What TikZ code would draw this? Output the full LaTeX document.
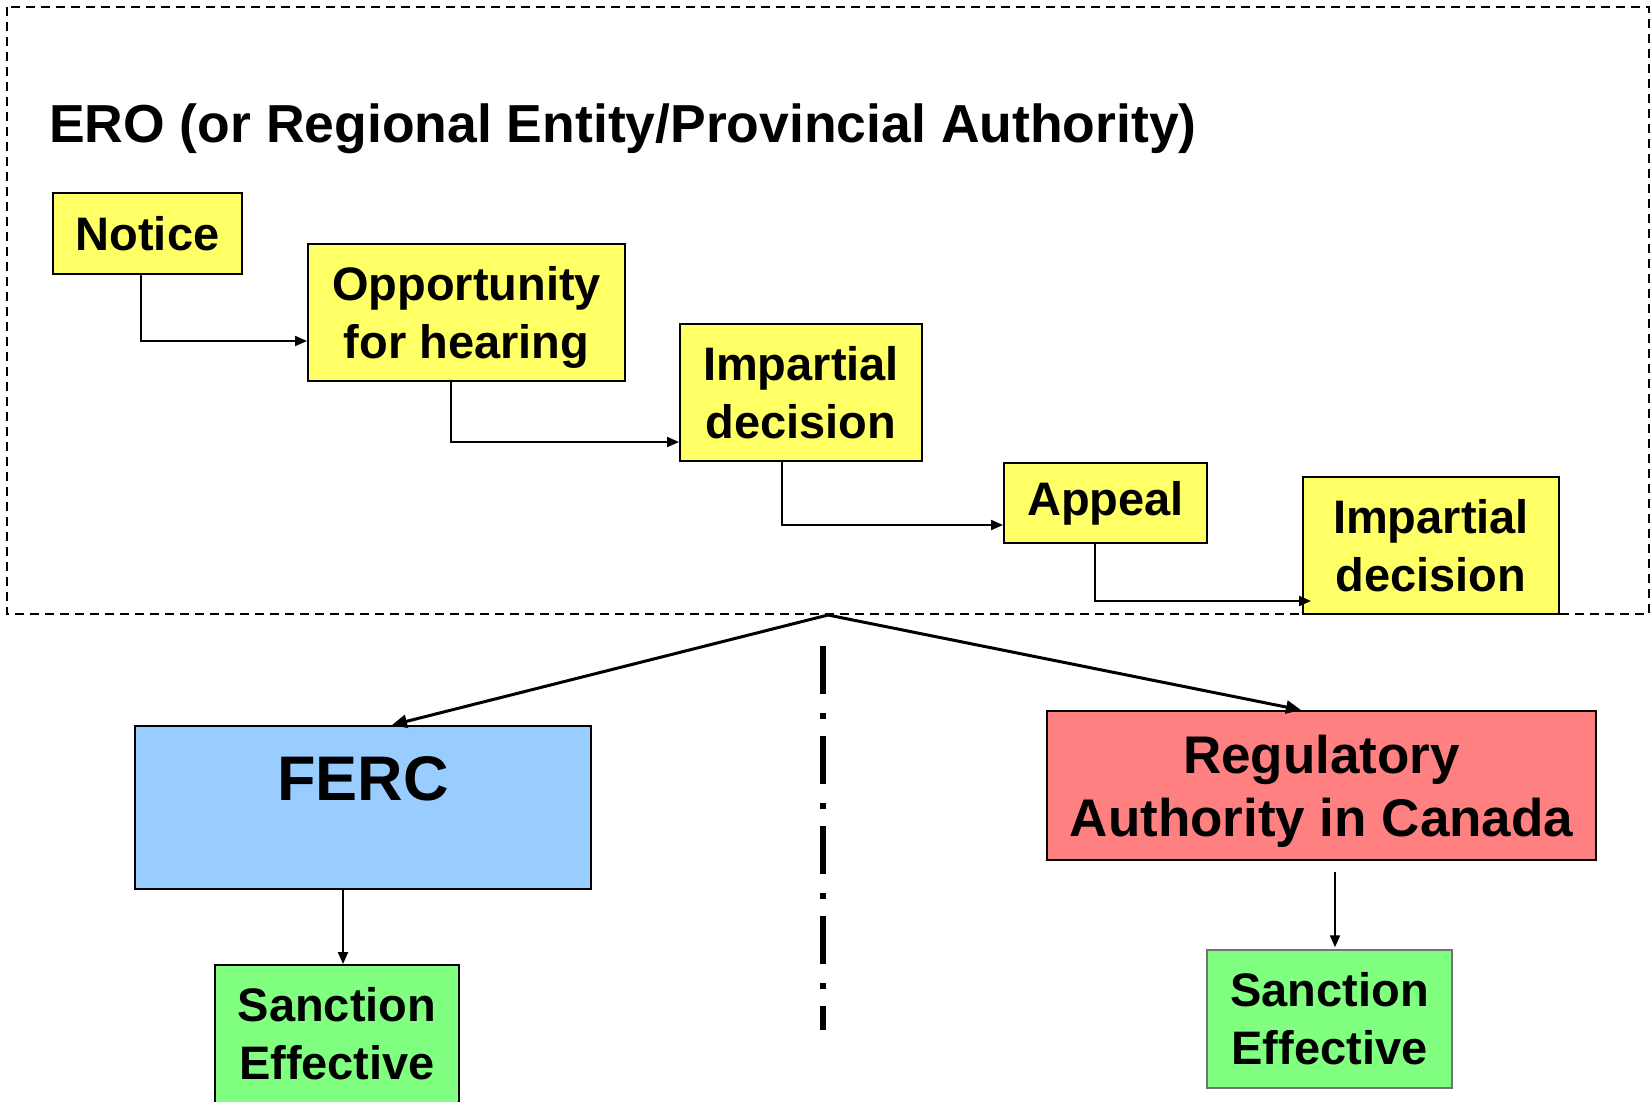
\documentclass[tikz,border=0pt]{standalone}
\usepackage{fontspec}
\setmainfont{Liberation Sans}
\usetikzlibrary{arrows.meta}
\definecolor{yel}{HTML}{FFFF66}
\definecolor{fblue}{HTML}{99CCFF}
\definecolor{rred}{HTML}{FF8080}
\definecolor{sgreen}{HTML}{80FF80}
\newcommand{\nodepth}[1]{\raisebox{0pt}[\height][0pt]{#1}}
\tikzset{
  box/.style={draw=black, line width=2pt, inner sep=0pt, align=center,
    font=\fontsize{47}{58}\selectfont\bfseries},
  ybox/.style={box, fill=yel},
  gbox/.style={box, fill=sgreen},
  conn/.style={line width=2pt, -{Triangle[length=12pt,width=10pt]}},
  bigconn/.style={line width=3pt, -{Triangle[length=15pt,width=13pt]}},
  frame/.style={line width=1.5pt, dash pattern=on 9pt off 6pt},
  divider/.style={line width=5.5pt, dash pattern=on 48pt off 19pt on 6pt off 17pt}
}
\begin{document}
\begin{tikzpicture}[x=1pt,y=-1pt]
\useasboundingbox (0,0) rectangle (1651,1101);
\draw[frame] (7,7) rectangle (1649,614);
\node[anchor=base west, inner sep=0pt, font=\fontsize{53.5}{60}\selectfont\bfseries] (title) at (49,142) {ERO (or Regional Entity/Provincial Authority)};

\node[ybox, minimum width=189pt, minimum height=81pt] (notice) at (147.5,233.5) {Notice};
\node[ybox, minimum width=317pt, minimum height=137pt] (opp) at (466.5,312.5) {Opportunity\\\nodepth{for hearing}};
\node[ybox, minimum width=242pt, minimum height=137pt] (imp1) at (801,392.5) {Impartial\\decision};
\node[ybox, minimum width=203pt, minimum height=80pt] (appeal) at (1105.5,503) {Appeal};
\node[ybox, minimum width=256pt, minimum height=137pt] (imp2) at (1431,545.5) {Impartial\\decision};

\node[box, fill=fblue, minimum width=456pt, text height=74pt, text depth=89pt,
  font=\fontsize{63}{70}\selectfont\bfseries] (ferc) at (363,807.5) {FERC};
\node[box, fill=rred, minimum width=549pt, minimum height=149pt,
  font=\fontsize{53}{63}\selectfont\bfseries] (reg) at (1321.5,785.5) {Regulatory\\\nodepth{Authority in Canada}};

\node[gbox, minimum width=244pt, minimum height=138pt] (sancl) at (337,1034) {Sanction\\Effective};
\node[gbox, draw=black!55, line width=1.5pt, minimum width=245pt, minimum height=138pt] (sancr) at (1329.5,1019) {Sanction\\Effective};

\draw[conn] ([xshift=-6.5pt]notice.south) |- ([yshift=-28.5pt]opp.west);
\draw[conn] ([xshift=-15.5pt]opp.south) |- ([yshift=-49.5pt]imp1.west);
\draw[conn] ([xshift=-19pt]imp1.south) |- ([yshift=-22pt]appeal.west);
\draw[conn, shorten >=-9pt] ([xshift=-10.5pt]appeal.south) |- ([yshift=-55.5pt]imp2.west);

\coordinate (apex) at (828,615);
\draw[bigconn] (apex) -- ([xshift=29pt]ferc.north);
\draw[bigconn] (apex) -- ([xshift=-20.5pt]reg.north);
\draw[conn] ([xshift=-20pt]ferc.south) -- ([xshift=6pt]sancl.north);
\draw[conn] ([xshift=13.5pt,yshift=-11pt]reg.south) -- ([xshift=5.5pt,yshift=2pt]sancr.north);

\coordinate (dtop) at (823,646);
\coordinate (dbot) at (823,1030);
\draw[divider] (dtop) -- (dbot);
\end{tikzpicture}
\end{document}
